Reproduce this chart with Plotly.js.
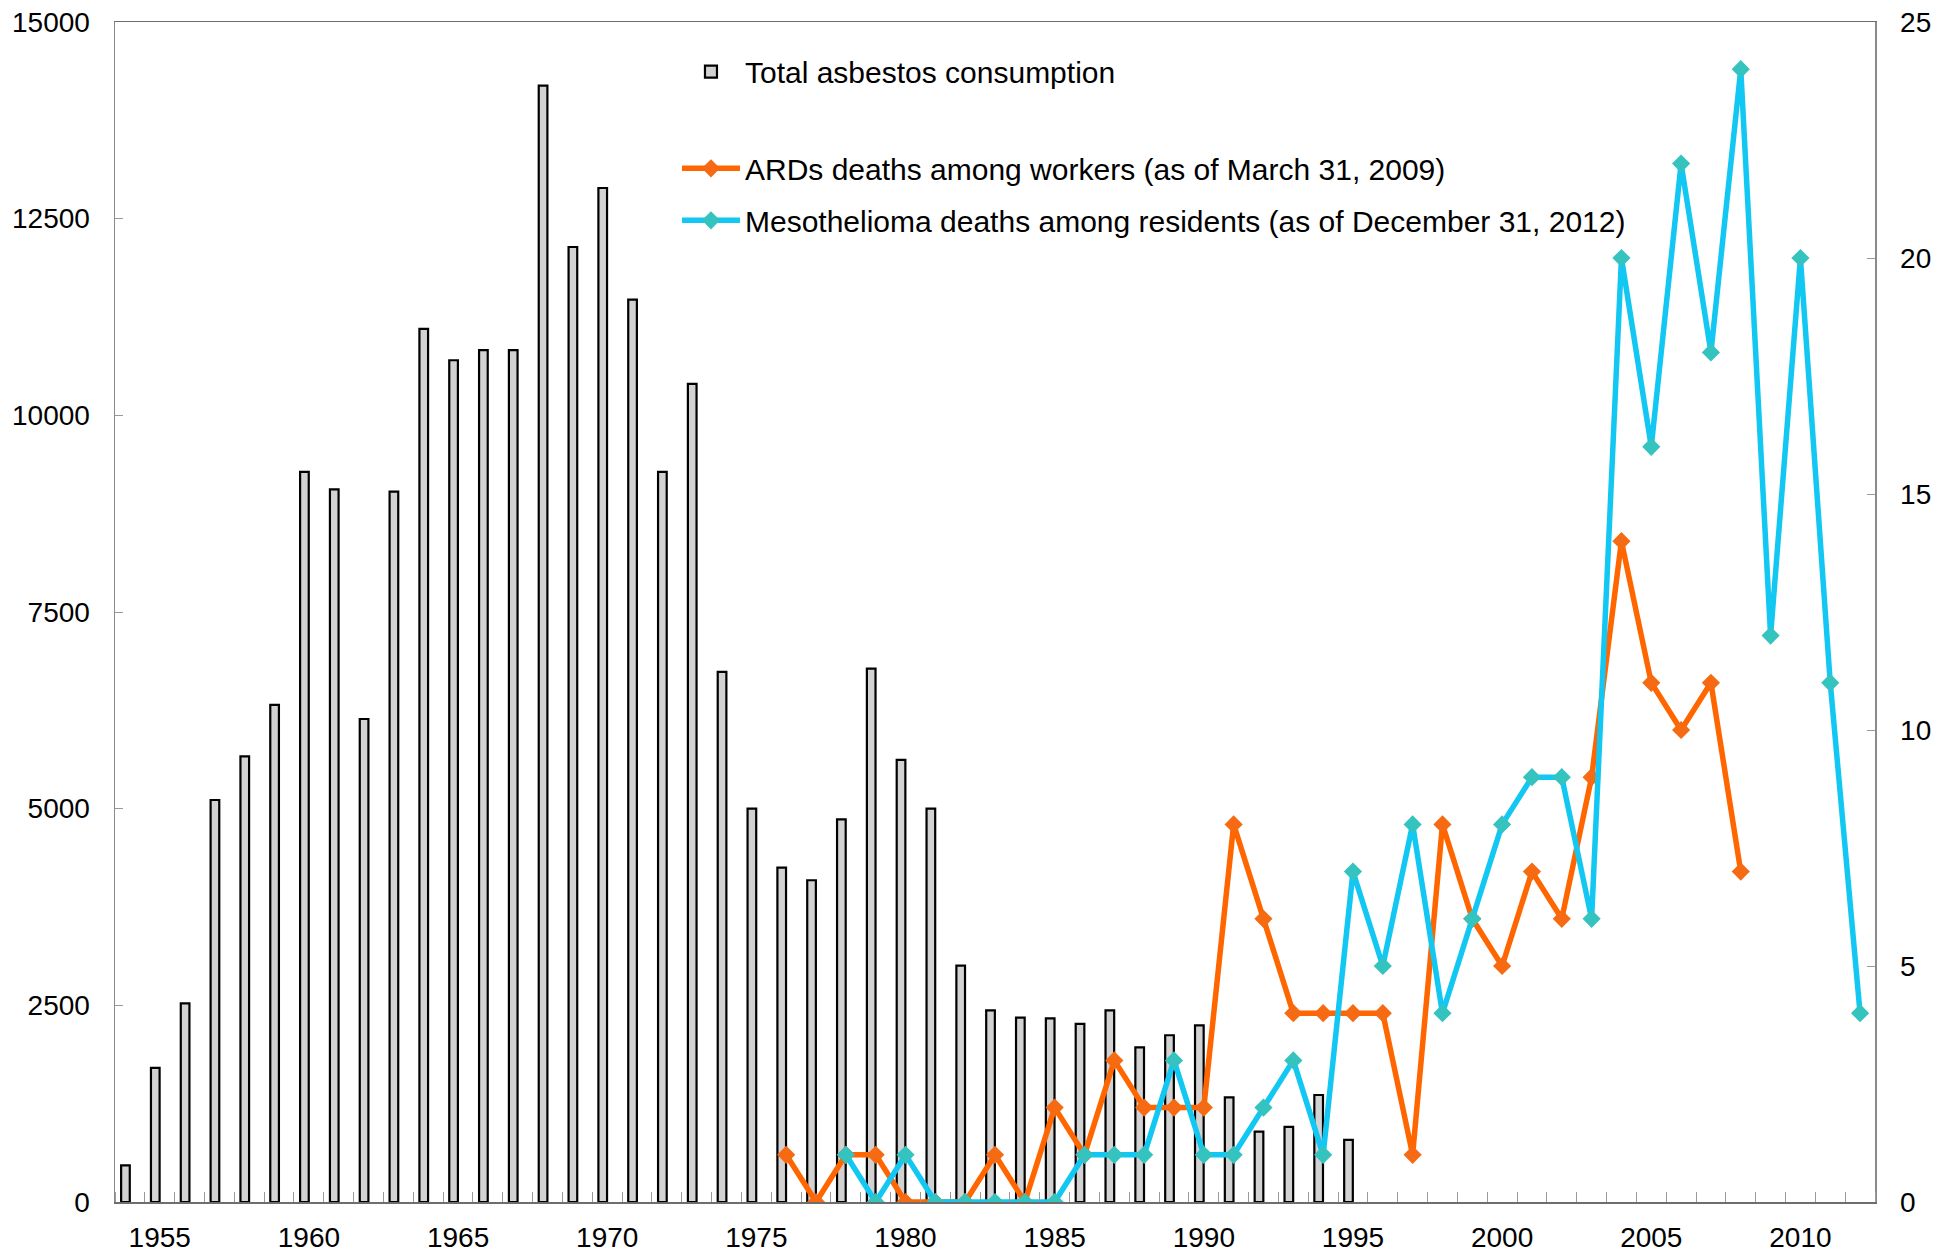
<!DOCTYPE html>
<html>
<head>
<meta charset="utf-8">
<script src="https://cdn.plot.ly/plotly-3.0.1.min.js"></script>
<style>
  html, body { margin: 0; padding: 0; background: #ffffff; }
  #chart { width: 1952px; height: 1259px; }
</style>
</head>
<body>
<div id="chart"></div>
<script>
// ---- Data ----
const consumptionYears = [1954,1955,1956,1957,1958,1959,1960,1961,1962,1963,1964,1965,1966,1967,1968,1969,1970,1971,1972,1973,1974,1975,1976,1977,1978,1979,1980,1981,1982,1983,1984,1985,1986,1987,1988,1989,1990,1991,1992,1993,1994,1995];
const consumptionValues = [465,1705,2525,5110,5665,6320,9280,9060,6140,9030,11100,10700,10830,10830,14190,12140,12890,11470,9280,10400,6740,5000,4250,4090,4865,6780,5620,5000,3005,2435,2345,2335,2265,2435,1965,2120,2245,1330,895,955,1360,790];

const ardsYears = [1976,1977,1978,1979,1980,1981,1982,1983,1984,1985,1986,1987,1988,1989,1990,1991,1992,1993,1994,1995,1996,1997,1998,1999,2000,2001,2002,2003,2004,2005,2006,2007,2008];
const ardsDeaths = [1,0,1,1,0,0,0,1,0,2,1,3,2,2,2,8,6,4,4,4,4,1,8,6,5,7,6,9,14,11,10,11,7];

const mesoYears = [1978,1979,1980,1981,1982,1983,1984,1985,1986,1987,1988,1989,1990,1991,1992,1993,1994,1995,1996,1997,1998,1999,2000,2001,2002,2003,2004,2005,2006,2007,2008,2009,2010,2011,2012];
const mesoDeaths = [1,0,1,0,0,0,0,0,1,1,1,3,1,1,2,3,1,7,5,8,4,6,8,9,9,6,20,16,22,18,24,12,20,11,4];

const xTickYears = [1955,1960,1965,1970,1975,1980,1985,1990,1995,2000,2005,2010];
const xTickLabels = ["1955","1960","1965","1970","1975","1980","1985","1990","1995","2000","2005","2010"];
const leftTicks = [0,2500,5000,7500,10000,12500,15000];
const leftTickLabels = ["0","2500","5000","7500","10000","12500","15000"];
const rightTicks = [0,5,10,15,20,25];
const rightTickLabels = ["0","5","10","15","20","25"];

const seriesNames = [
  "Total asbestos consumption",
  "ARDs deaths among workers (as of March 31, 2009)",
  "Mesothelioma deaths among residents (as of December 31, 2012)"
];

// ---- Traces ----
const FONT = "'Liberation Sans', Arial, sans-serif";

const barTrace = {
  type: 'bar',
  name: seriesNames[0],
  x: consumptionYears,
  y: consumptionValues,
  width: 0.29,
  offset: -0.295,
  marker: { color: '#d2d2d2', line: { color: '#000000', width: 2.2 } },
  legend: 'legend',
  hoverinfo: 'x+y'
};

const ardsTrace = {
  type: 'scatter',
  mode: 'lines+markers',
  name: seriesNames[1],
  x: ardsYears,
  y: ardsDeaths,
  yaxis: 'y2',
  line: { color: '#ff6600', width: 5.5 },
  marker: { symbol: 'diamond', size: 14, color: '#f56a12' },
  legend: 'legend2',
  legendgroup: 'a'
};

const mesoTrace = {
  type: 'scatter',
  mode: 'lines+markers',
  name: seriesNames[2],
  x: mesoYears,
  y: mesoDeaths,
  yaxis: 'y2',
  line: { color: '#12c8f2', width: 5.5 },
  marker: { symbol: 'diamond', size: 14, color: '#35c3bf' },
  legend: 'legend2',
  legendgroup: 'b'
};

const layout = {
  width: 1952,
  height: 1259,
  paper_bgcolor: '#ffffff',
  plot_bgcolor: '#ffffff',
  margin: { l: 115, r: 77, t: 22, b: 57 },
  font: { family: FONT, size: 28, color: '#000000' },
  showlegend: true,
  bargap: 0,
  xaxis: {
    range: [1953.5, 2012.5],
    tickmode: 'array',
    tickvals: xTickYears,
    ticktext: xTickLabels,
    ticks: '',
    showgrid: false,
    zeroline: false,
    showline: true,
    linecolor: '#6e6e6e',
    linewidth: 1.5,
    mirror: true,
    tickfont: { family: FONT, size: 28, color: '#000000' },
    ticklabelstandoff: 10,
    minor: {
      tickmode: 'linear',
      tick0: 1954.5,
      dtick: 1,
      ticks: 'inside',
      ticklen: 10,
      tickcolor: '#9a9a9a',
      tickwidth: 1,
      showgrid: false
    }
  },
  yaxis: {
    range: [0, 15000],
    tickmode: 'array',
    tickvals: leftTicks,
    ticktext: leftTickLabels,
    ticks: 'inside',
    ticklen: 8,
    tickcolor: '#9a9a9a',
    showgrid: false,
    zeroline: false,
    showline: true,
    linecolor: '#8a8a8a',
    linewidth: 1.5,
    tickfont: { family: FONT, size: 28, color: '#000000' },
    ticklabelstandoff: 18
  },
  yaxis2: {
    range: [0, 25],
    overlaying: 'y',
    side: 'right',
    tickmode: 'array',
    tickvals: rightTicks,
    ticktext: rightTickLabels,
    ticks: 'inside',
    ticklen: 8,
    tickcolor: '#9a9a9a',
    showgrid: false,
    zeroline: false,
    showline: true,
    linecolor: '#8a8a8a',
    linewidth: 1.5,
    tickfont: { family: FONT, size: 28, color: '#000000' },
    ticklabelstandoff: 18
  },
  legend: {
    x: 0.3193, xanchor: 'left',
    y: 0.98, yanchor: 'top',
    bgcolor: 'rgba(0,0,0,0)',
    borderwidth: 0,
    font: { family: FONT, size: 30, color: '#000000' },
    itemwidth: 58
  },
  legend2: {
    x: 0.3193, xanchor: 'left',
    y: 0.898, yanchor: 'top',
    bgcolor: 'rgba(0,0,0,0)',
    borderwidth: 0,
    traceorder: 'grouped',
    tracegroupgap: 10,
    font: { family: FONT, size: 30, color: '#000000' },
    itemwidth: 58
  }
};

Plotly.newPlot('chart', [barTrace, ardsTrace, mesoTrace], layout, { displayModeBar: false, staticPlot: true });
</script>
</body>
</html>
